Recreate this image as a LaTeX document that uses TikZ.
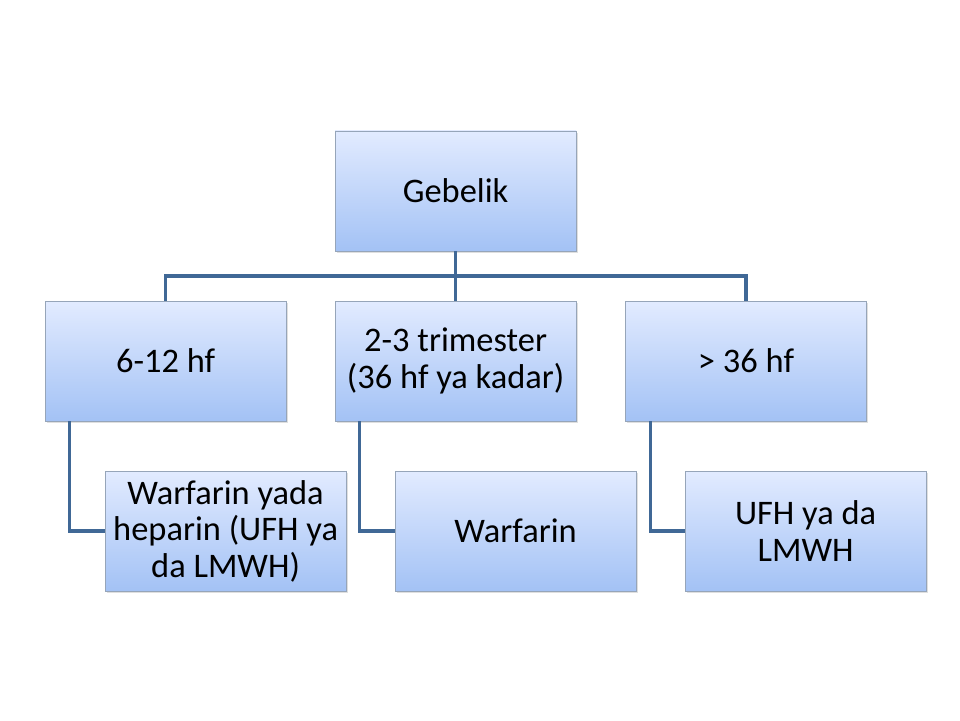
\documentclass[tikz,border=0pt]{standalone}
\usepackage{fontspec}
\setmainfont{Carlito}
\usetikzlibrary{shadows}

\definecolor{boxtop}{RGB}{226,235,255}
\definecolor{boxbot}{RGB}{163,194,245}
\definecolor{boxline}{RGB}{150,165,185}
\definecolor{connline}{RGB}{64,104,150}

\tikzset{
  kutu/.style={rectangle, minimum width=6.025cm, minimum height=3cm,
    top color=boxtop, bottom color=boxbot, draw=boxline, line width=0.4pt,
    align=center, inner sep=1pt, font=\fontsize{24.5}{26}\selectfont,
    drop shadow={shadow xshift=0.04cm, shadow yshift=-0.04cm, opacity=0.25}},
  baglanti/.style={draw=connline, line width=2.2pt}
}

\begin{document}
\begin{tikzpicture}
\useasboundingbox (0,0) rectangle (24,18);
\node[kutu] (gebelik) at (11.39,13.225) {Gebelik};
\node[kutu] (hf) at (4.14,8.975) {6-12 hf};
\node[kutu] (trim) at (11.39,8.975) {2-3 trimester\\(36 hf ya kadar)};
\node[kutu] (son) at (18.65,8.975) {> 36 hf};
\node[kutu] (ilac1) at (5.64,4.725) {Warfarin yada\\heparin (UFH ya\\da LMWH)};
\node[kutu] (ilac2) at (12.89,4.725) {Warfarin};
\node[kutu] (ilac3) at (20.14,4.725) {UFH ya da\\LMWH};
\coordinate (bar) at (0,11.1);
% ust seviye
\draw[baglanti] (gebelik.south) -- (gebelik |- bar);
\draw[baglanti] (hf.north) -- (hf |- bar) -- (son |- bar) -- (son.north);
\draw[baglanti] (trim.north) -- (trim |- bar);
% alt seviye
\draw[baglanti] ([xshift=0.625cm]hf.south west) |- (ilac1.west);
\draw[baglanti] ([xshift=0.625cm]trim.south west) |- (ilac2.west);
\draw[baglanti] ([xshift=0.625cm]son.south west) |- (ilac3.west);
\end{tikzpicture}
\end{document}
